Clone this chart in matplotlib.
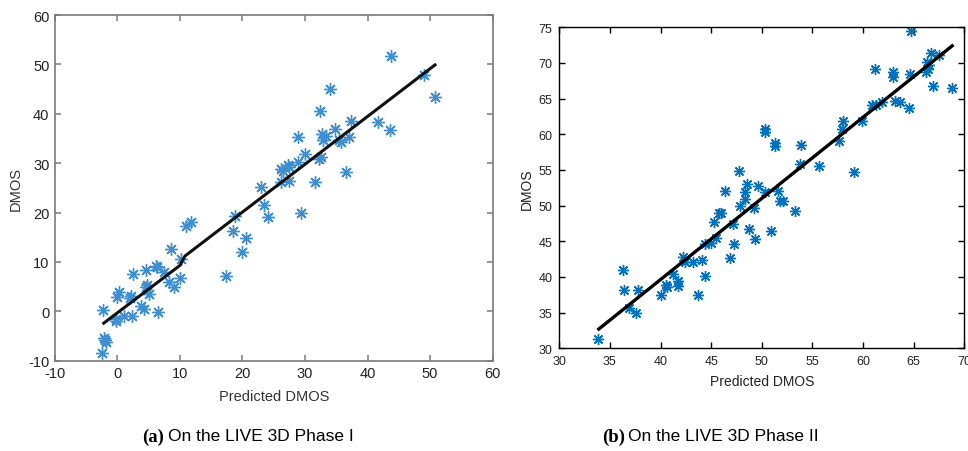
import numpy as np
import matplotlib
matplotlib.use("Agg")
import matplotlib.pyplot as plt

plt.rcParams['font.family'] = ['Liberation Sans', 'DejaVu Sans']
plt.rcParams['axes.unicode_minus'] = False

# Panel (a): LIVE 3D Phase I  (predicted DMOS, DMOS)
pred_a = [-2.3, -2.0, -1.8, -2.2, -2.4, 0.2, 0.0, -0.3, -0.2, 1.0, 2.3, 2.2, 2.0,
          2.5, 4.5, 4.5, 4.8, 5.0, 3.7, 4.3, 6.5, 6.1, 6.4, 7.4, 8.2, 9.0, 8.6,
          10.0, 10.1, 10.9, 11.7, 17.3, 18.5, 18.8, 20.6, 20.0, 22.9, 23.5, 24.1,
          29.4, 31.6, 26.1, 27.5, 28.8, 26.1, 26.4, 27.2, 27.5, 30.0, 32.3, 32.5,
          28.8, 32.4, 34.0, 32.7, 33.4, 32.9, 34.8, 35.4, 35.7, 37.1, 37.4, 36.6,
          41.6, 43.6, 43.7, 49.1, 50.8]
dmos_a = [0.2, -5.8, -6.2, -5.5, -8.5, 4.0, 2.8, -1.5, -2.0, -0.9, -1.0, 3.2, 2.6,
          7.5, 8.4, 5.0, 5.3, 3.6, 1.1, 0.5, -0.1, 9.2, 8.9, 7.9, 6.0, 4.9, 12.6,
          6.7, 10.6, 17.3, 18.0, 7.1, 16.3, 19.4, 14.8, 12.1, 25.1, 21.6, 19.0,
          19.9, 26.1, 26.2, 26.4, 30.3, 28.8, 28.5, 29.6, 29.3, 31.8, 30.8, 31.2,
          35.3, 40.5, 45.0, 35.9, 35.5, 34.6, 37.0, 34.6, 34.2, 35.2, 38.5, 28.3,
          38.3, 36.8, 51.6, 47.8, 43.3]
fit_a_x = [-2.2, 10.0, 10.8, 50.8]
fit_a_y = [-2.4, 9.3, 11.2, 49.9]

# Panel (b): LIVE 3D Phase II
pred_b = [33.8, 36.3, 36.4, 37.8, 36.9, 37.6, 40.0, 40.5, 40.6, 41.2, 41.7, 41.7,
          42.2, 42.4, 43.2, 44.1, 43.7, 44.4, 44.4, 45.0, 45.3, 45.5, 45.8, 46.0,
          46.4, 47.2, 47.3, 46.9, 47.8, 47.7, 48.3, 48.3, 48.5, 48.7, 49.2, 49.3,
          49.6, 50.3, 50.9, 51.6, 51.8, 52.1, 53.3, 50.3, 50.3, 51.3, 51.3, 53.9,
          53.8, 55.6, 59.1, 57.6, 57.9, 58.0, 59.9, 60.9, 61.3, 61.9, 61.2, 63.0,
          63.0, 64.6, 63.2, 63.6, 64.5, 64.7, 66.7, 67.5, 66.3, 66.5, 66.2, 66.4,
          66.9, 68.8]
dmos_b = [31.3, 41.0, 38.2, 38.2, 35.6, 34.9, 37.5, 38.9, 38.6, 40.4, 39.5, 38.7,
          42.8, 42.1, 42.1, 42.4, 37.5, 40.2, 44.6, 44.8, 47.7, 45.5, 48.9, 48.9,
          52.0, 47.4, 44.6, 42.6, 50.0, 54.8, 51.9, 50.9, 53.0, 46.7, 49.6, 45.3,
          52.8, 51.9, 46.4, 52.1, 50.6, 50.6, 49.3, 60.8, 60.3, 58.8, 58.3, 58.5,
          55.8, 55.5, 54.7, 59.1, 60.8, 61.9, 61.9, 64.1, 64.1, 64.5, 69.1, 68.7,
          68.1, 68.5, 64.7, 64.5, 63.7, 74.5, 71.4, 71.1, 70.1, 69.7, 68.8, 69.2,
          66.8, 66.5]
fit_b_x = [33.9, 68.8]
fit_b_y = [32.7, 72.4]

ticks_a = [-10, 0, 10, 20, 30, 40, 50, 60]
ticks_bx = [30, 35, 40, 45, 50, 55, 60, 65, 70]
ticks_by = [30, 35, 40, 45, 50, 55, 60, 65, 70, 75]

fig = plt.figure(figsize=(9.68, 4.52), dpi=100)
blue = '#0072BD'
star = (8, 2, 0)

# ---- panel a ----
ax1 = fig.add_axes([0.0568, 0.1998, 0.452, 0.7648])
ax1.plot(pred_a, dmos_a, linestyle='none', marker=star, ms=9, mew=1.0,
         color='#3d8fd1')
ax1.plot(fit_a_x, fit_a_y, color='#111111', lw=2.2)
ax1.set_xlim(-10, 60)
ax1.set_ylim(-10, 60)
ax1.set_xticks(ticks_a)
ax1.set_yticks(ticks_a)
for s in ax1.spines.values():
    s.set_color('#7a7a7a')
    s.set_linewidth(1.2)
ax1.tick_params(direction='in', top=True, right=True, length=4, width=1.1,
                color='#7a7a7a', labelsize=10.5, labelcolor='#222222', pad=4)
ax1.tick_params(labeltop=False, labelright=False)
ax1.set_xlabel('Predicted DMOS', fontsize=10.5, color='#333333', labelpad=6)
ax1.set_ylabel('DMOS', fontsize=10.5, color='#333333', labelpad=4)

# ---- panel b ----
ax2 = fig.add_axes([0.5778, 0.2272, 0.4184, 0.7102])
ax2.plot(pred_b, dmos_b, linestyle='none', marker=star, ms=8, mew=1.0,
         color=blue)
ax2.plot(fit_b_x, fit_b_y, color='black', lw=2.4)
ax2.set_xlim(30, 70)
ax2.set_ylim(30, 75)
ax2.set_xticks(ticks_bx)
ax2.set_yticks(ticks_by)
for s in ax2.spines.values():
    s.set_color('black')
    s.set_linewidth(1.0)
ax2.tick_params(direction='in', top=True, right=True, length=4, width=1.0,
                labelsize=9, labelcolor='#222222', pad=5)
ax2.tick_params(labeltop=False, labelright=False)
ax2.set_xlabel('Predicted DMOS', fontsize=10, color='#222222', labelpad=5)
ax2.set_ylabel('DMOS', fontsize=10, color='#222222', labelpad=3)

# ---- captions ----
fig.text(142 / 968, 1 - 437 / 452, '(a)', fontsize=13.5, fontweight='bold',
         family='Liberation Serif', va='center', ha='left')
fig.text(168 / 968, 1 - 437 / 452, 'On the LIVE 3D Phase I', fontsize=12.5,
         va='center', ha='left')
fig.text(602 / 968, 1 - 437 / 452, '(b)', fontsize=13.5, fontweight='bold',
         family='Liberation Serif', va='center', ha='left')
fig.text(628 / 968, 1 - 437 / 452, 'On the LIVE 3D Phase II', fontsize=12.5,
         va='center', ha='left')

fig.savefig('out.png', dpi=100)
